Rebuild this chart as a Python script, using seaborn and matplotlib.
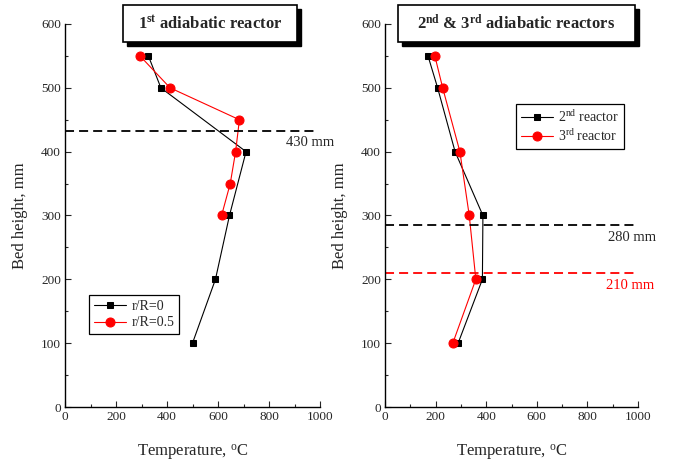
import pandas as pd
import seaborn as sns
import matplotlib.pyplot as plt
from matplotlib.patches import Rectangle
from matplotlib.ticker import MultipleLocator

sns.set_style('ticks')
plt.rcParams['font.family'] = ['Liberation Serif', 'DejaVu Serif']
plt.rcParams['mathtext.fontset'] = 'custom'
plt.rcParams['mathtext.rm'] = 'Liberation Serif'
plt.rcParams['mathtext.bf'] = 'Liberation Serif:bold'
plt.rcParams['mathtext.it'] = 'Liberation Serif:italic'

# 1st reactor
h_center = [100, 200, 300, 400, 500, 550]
t_center = [500, 590, 645, 710, 376, 327]
h_half = [300, 350, 400, 450, 500, 550]
t_half = [614, 648, 669, 684, 412, 294]
limit_1 = 433
limit_1_label = '430 mm'

# 2nd & 3rd reactors
h_23 = [100, 200, 300, 400, 500, 550]
t_2nd = [289, 385, 387, 277, 208, 170]
t_3rd = [268, 359, 333, 296, 228, 197]
limit_2 = 285
limit_2_label = '280 mm'
limit_3 = 210
limit_3_label = '210 mm'

df1 = pd.DataFrame({'T': t_center, 'h': h_center})
df2 = pd.DataFrame({'T': t_half, 'h': h_half})
df3 = pd.DataFrame({'T': t_2nd, 'h': h_23})
df4 = pd.DataFrame({'T': t_3rd, 'h': h_23})

fig = plt.figure(figsize=(6.74, 4.63), dpi=100)
W, H = 674, 463
ax1 = fig.add_axes([65 / W, 1 - 407 / H, 255 / W, 383 / H])
ax2 = fig.add_axes([385 / W, 1 - 407 / H, 253 / W, 383 / H])

line_kw = dict(sort=False, estimator=None, linewidth=0.8)
sns.lineplot(data=df1, x='T', y='h', ax=ax1, color='black', marker='s', markersize=5,
             markeredgecolor='black', label='r/R=0', **line_kw)
sns.lineplot(data=df2, x='T', y='h', ax=ax1, color='red', marker='o', markersize=6.5,
             markeredgecolor='red', label='r/R=0.5', **line_kw)
sns.lineplot(data=df3, x='T', y='h', ax=ax2, color='black', marker='s', markersize=5,
             markeredgecolor='black', label='2$^{\\mathrm{nd}}$ reactor', **line_kw)
sns.lineplot(data=df4, x='T', y='h', ax=ax2, color='red', marker='o', markersize=6.5,
             markeredgecolor='red', label='3$^{\\mathrm{rd}}$ reactor', **line_kw)

dash = (0, (5, 2.8))
ax1.axhline(limit_1, xmin=0, xmax=0.99, color='black', lw=1.3, linestyle=dash)
ax1.text(868, limit_1 - 19, limit_1_label, fontsize=10.5, va='center', ha='left', clip_on=False)
ax2.axhline(limit_2, xmin=0, xmax=0.99, color='black', lw=1.3, linestyle=dash)
ax2.text(881, limit_2 - 20, limit_2_label, fontsize=10.5, va='center', ha='left', clip_on=False)
ax2.axhline(limit_3, xmin=0, xmax=0.99, color='red', lw=1.3, linestyle=dash)
ax2.text(873, limit_3 - 20, limit_3_label, fontsize=10.5, va='center', ha='left', color='red',
         clip_on=False)

for ax in (ax1, ax2):
    ax.set_xlim(0, 1000)
    ax.set_ylim(0, 600)
    ax.xaxis.set_major_locator(MultipleLocator(200))
    ax.xaxis.set_minor_locator(MultipleLocator(100))
    ax.yaxis.set_major_locator(MultipleLocator(100))
    ax.yaxis.set_minor_locator(MultipleLocator(50))
    ax.tick_params(which='major', direction='in', length=4, width=0.8, labelsize=9.5, pad=3)
    ax.tick_params(which='minor', direction='in', length=2.5, width=0.8)
    ax.set_xlabel('Temperature, $^{\\mathrm{o}}$C', fontsize=12, labelpad=14)
    ax.set_ylabel('Bed height, mm', fontsize=12, labelpad=9)
    sns.despine(ax=ax)
    for s in ('left', 'bottom'):
        ax.spines[s].set_linewidth(1.0)
        ax.spines[s].set_color('black')

leg_kw = dict(loc='upper left', frameon=True, fancybox=False, edgecolor='black', fontsize=10,
              borderaxespad=0, handlelength=2.3, handletextpad=0.4, labelspacing=0.25,
              borderpad=0.35)
l1 = ax1.legend(bbox_to_anchor=(0.094, 0.292), **leg_kw)
l2 = ax2.legend(bbox_to_anchor=(0.518, 0.791), **leg_kw)
for lg in (l1, l2):
    lg.get_frame().set_linewidth(0.9)
    lg.get_frame().set_alpha(1)

# boxed titles with shadow
titles = ['1$^{\\mathbf{st}}$ adiabatic reactor',
          '2$^{\\mathbf{nd}}$ & 3$^{\\mathbf{rd}}$ adiabatic reactors']
boxes = [(123, 5, 174, 37), (398, 5, 237, 37)]
for title, (bx, by, bw, bh) in zip(titles, boxes):
    fig.patches.append(Rectangle(((bx + 4) / W, 1 - (by + bh + 4) / H), bw / W, bh / H,
                                 transform=fig.transFigure, facecolor='black',
                                 edgecolor='black', zorder=5))
    fig.patches.append(Rectangle((bx / W, 1 - (by + bh) / H), bw / W, bh / H,
                                 transform=fig.transFigure, facecolor='white',
                                 edgecolor='black', lw=1.2, zorder=6))
    fig.text((bx + bw / 2) / W, 1 - (by + bh / 2) / H, title, ha='center', va='center',
             fontsize=12, fontweight='bold', zorder=7)

plt.savefig('out.png', dpi=100)
plt.close()
